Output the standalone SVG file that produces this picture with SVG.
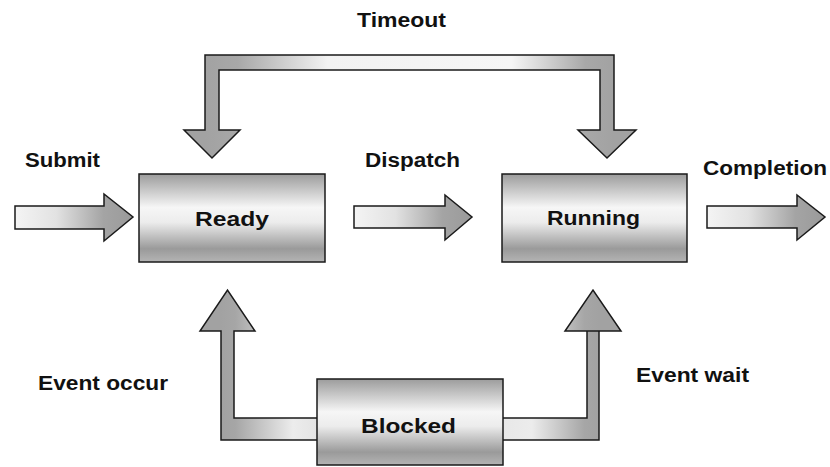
<svg xmlns="http://www.w3.org/2000/svg" width="830" height="467" viewBox="0 0 830 467">
  <style>
    .box { stroke: #1a1a1a; stroke-width: 1.5; fill: url(#boxFill); }
    .arrow { stroke: #1a1a1a; stroke-width: 1.5; stroke-linejoin: miter; }
    .label { font-family: "Liberation Sans", Arial, sans-serif; font-weight: bold; font-size: 20px; fill: #111; }
    .name { font-family: "Liberation Sans", Arial, sans-serif; font-weight: bold; font-size: 21px; fill: #111; }
  </style>
  <defs>
    <!-- metallic vertical shading for the state boxes -->
    <linearGradient id="boxFill" x1="0" y1="0" x2="0" y2="1">
      <stop offset="0" stop-color="#9c9c9c"/>
      <stop offset="0.38" stop-color="#f6f6f6"/>
      <stop offset="0.55" stop-color="#ececec"/>
      <stop offset="0.85" stop-color="#9a9a9a"/>
      <stop offset="1" stop-color="#b4b4b4"/>
    </linearGradient>
    <!-- straight arrows: light tail fading to grey head -->
    <linearGradient id="rightFill" x1="0" y1="0" x2="1" y2="0">
      <stop offset="0" stop-color="#f4f4f4"/>
      <stop offset="0.35" stop-color="#e2e2e2"/>
      <stop offset="0.75" stop-color="#a4a4a4"/>
      <stop offset="1" stop-color="#9a9a9a"/>
    </linearGradient>
    <linearGradient id="timeoutFill" gradientUnits="userSpaceOnUse" x1="205" y1="0" x2="614" y2="0">
      <stop offset="0" stop-color="#a2a2a2"/>
      <stop offset="0.08" stop-color="#a8a8a8"/>
      <stop offset="0.3" stop-color="#f2f2f2"/>
      <stop offset="0.75" stop-color="#f6f6f6"/>
      <stop offset="0.93" stop-color="#a8a8a8"/>
      <stop offset="1" stop-color="#a2a2a2"/>
    </linearGradient>
    <linearGradient id="occurFill" gradientUnits="userSpaceOnUse" x1="221" y1="0" x2="317" y2="0">
      <stop offset="0" stop-color="#a2a2a2"/>
      <stop offset="0.15" stop-color="#a6a6a6"/>
      <stop offset="0.75" stop-color="#ececec"/>
      <stop offset="1" stop-color="#e4e4e4"/>
    </linearGradient>
    <linearGradient id="waitFill" gradientUnits="userSpaceOnUse" x1="503" y1="0" x2="599" y2="0">
      <stop offset="0" stop-color="#e8e8e8"/>
      <stop offset="0.3" stop-color="#ececec"/>
      <stop offset="0.85" stop-color="#a6a6a6"/>
      <stop offset="1" stop-color="#a2a2a2"/>
    </linearGradient>
  </defs>

  <g id="connectors">
    <!-- Submit -->
    <polygon class="arrow" fill="url(#rightFill)" points="15,206 104,206 104,194 133,217 104,241 104,229 15,229"/>
    <!-- Dispatch -->
    <polygon class="arrow" fill="url(#rightFill)" points="354,206 445,206 445,195 472,217 445,240 445,228 354,228"/>
    <!-- Completion -->
    <polygon class="arrow" fill="url(#rightFill)" points="707,206 797,206 797,195 825,217 797,240 797,228 707,228"/>
    <!-- Timeout bracket with heads into Ready and Running -->
    <polygon class="arrow" fill="url(#timeoutFill)" points="205,130 205,55 614,55 614,130 636,130 607,158 578,130 600,130 600,70 219,70 219,130 240,130 212,158 184,130"/>
    <!-- Event occur: Blocked up to Ready -->
    <polygon class="arrow" fill="url(#occurFill)" points="318,418 234,418 234,331 255,331 227.5,290 200,331 221,331 221,440 318,440"/>
    <!-- Event wait: Blocked up to Running -->
    <polygon class="arrow" fill="url(#waitFill)" points="502,418 587,418 587,331 621,331 593,290 565,331 599,331 599,440 502,440"/>

    <text class="label" x="357" y="27" textLength="89" lengthAdjust="spacingAndGlyphs">Timeout</text>
    <text class="label" x="25" y="167" textLength="75" lengthAdjust="spacingAndGlyphs">Submit</text>
    <text class="label" x="365" y="167" textLength="95" lengthAdjust="spacingAndGlyphs">Dispatch</text>
    <text class="label" x="703" y="175" textLength="124" lengthAdjust="spacingAndGlyphs">Completion</text>
    <text class="label" x="38" y="390" textLength="130" lengthAdjust="spacingAndGlyphs">Event occur</text>
    <text class="label" x="636" y="382" textLength="113" lengthAdjust="spacingAndGlyphs">Event wait</text>
  </g>

  <g id="ready">
    <rect class="box" x="139" y="174" width="186" height="88"/>
    <text class="name" x="195" y="226" textLength="74" lengthAdjust="spacingAndGlyphs">Ready</text>
  </g>

  <g id="running">
    <rect class="box" x="502" y="174" width="185" height="88"/>
    <text class="name" x="547" y="225" textLength="93" lengthAdjust="spacingAndGlyphs">Running</text>
  </g>

  <g id="blocked">
    <rect class="box" x="317" y="379" width="186" height="86"/>
    <text class="name" x="361" y="433" textLength="95" lengthAdjust="spacingAndGlyphs">Blocked</text>
  </g>
</svg>
